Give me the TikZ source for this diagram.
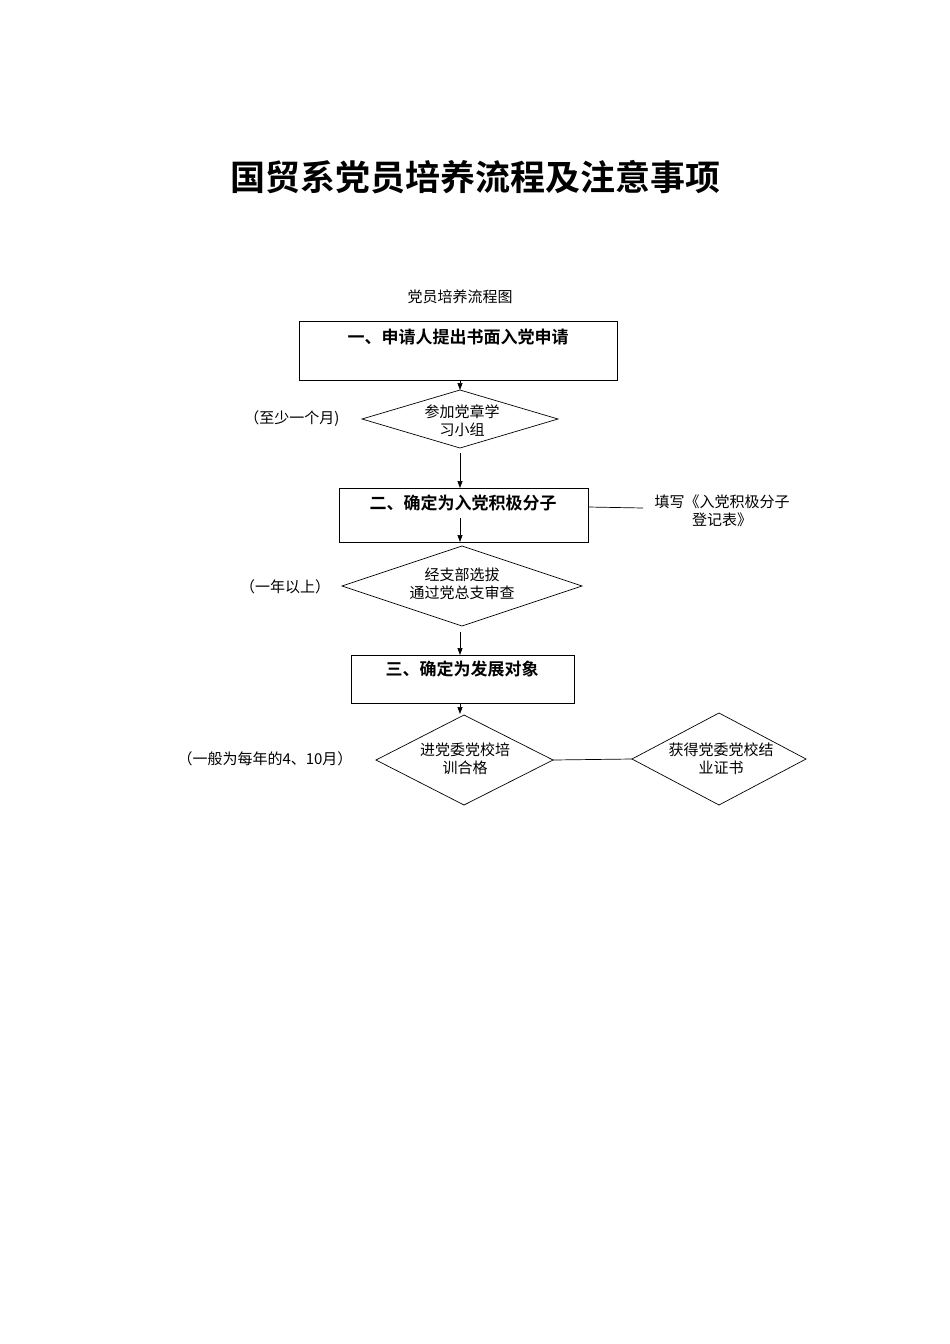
\documentclass[tikz,border=0pt]{standalone}
\usepackage{fontspec}
\setmainfont{Liberation Serif}
\newfontfamily\cjk{Noto Sans CJK SC}
\newfontfamily\cjkb{Noto Sans CJK SC Bold}
\usetikzlibrary{shapes.geometric,arrows.meta}
\begin{document}
\begin{tikzpicture}[x=1pt,y=-1pt,
  txt/.style={font=\cjk\fontsize{15}{18}\selectfont,align=center,inner sep=0},
  btxt/.style={font=\cjkb\fontsize{17}{20}\selectfont,inner sep=0},
  arr/.style={-{Triangle[length=7pt,width=5pt]},line width=0.7pt},
  ln/.style={line width=0.7pt}]
\useasboundingbox (0,0) rectangle (950,1344);
\node[font=\cjkb\fontsize{35}{40}\selectfont,inner sep=0] (title) at (475,177) {国贸系党员培养流程及注意事项};
\node[txt] (sub) at (460,297) {党员培养流程图};
% box 1
\draw[ln] (299,321) rectangle (617,380);
\coordinate (b1b) at (460,380);
\node[btxt] (b1) at (458,337) {一、申请人提出书面入党申请};
% diamond 1
\draw[ln] (362,419) coordinate (d1l) -- (460,390) coordinate (d1t) -- (558,419) -- (460,448) coordinate (d1b) -- cycle;
\node[txt] (d1) at (462,421) {参加党章学\\习小组};
\node[txt] (l1) at (292,419) {（至少一个月)};
\draw[arr] (b1b) -- (d1t);
% box 2
\draw[ln] (339,488) rectangle (588,542);
\coordinate (b2t) at (460,488); \coordinate (b2b) at (460,542); \coordinate (b2r) at (588,507);
\node[btxt] (b2) at (463,503) {二、确定为入党积极分子};
\draw[arr] (460,453) -- (b2t);
\coordinate (n2l) at (643,508);
\draw[ln] (b2r) -- (n2l);
\node[txt] (n2) at (722,511) {填写《入党积极分子\\登记表》};
% diamond 2
\draw[ln] (342,586) -- (462,546) coordinate (d2t) -- (582,586) -- (462,626) coordinate (d2b) -- cycle;
\node[txt] (d2) at (462,584) {经支部选拔\\通过党总支审查};
\node[txt] (l2) at (285,587) {（一年以上）};
\draw[arr] (460,518) -- (b2b);
% box 3
\draw[ln] (351,655) rectangle (574,703);
\coordinate (b3t) at (460,655); \coordinate (b3b) at (460,703);
\node[btxt] (b3) at (462,669) {三、确定为发展对象};
\draw[arr] (460,632) -- (b3t);
% diamond 3
\draw[ln] (376,760) -- (464,715) coordinate (d3t) -- (553,760) coordinate (d3r) -- (464,805) -- cycle;
\node[txt] (d3) at (465,759) {进党委党校培\\训合格};
\node[txt] (l3) at (265,759) {（一般为每年的4、10月）};
\draw[arr] (b3b) -- (460,714);
% diamond 4
\draw[ln] (632,759) coordinate (d4l) -- (719,713) -- (806,759) -- (719,805) -- cycle;
\node[txt] (d4) at (721,759) {获得党委党校结\\业证书};
\draw[ln] (d3r) -- (d4l);
\end{tikzpicture}
\end{document}
